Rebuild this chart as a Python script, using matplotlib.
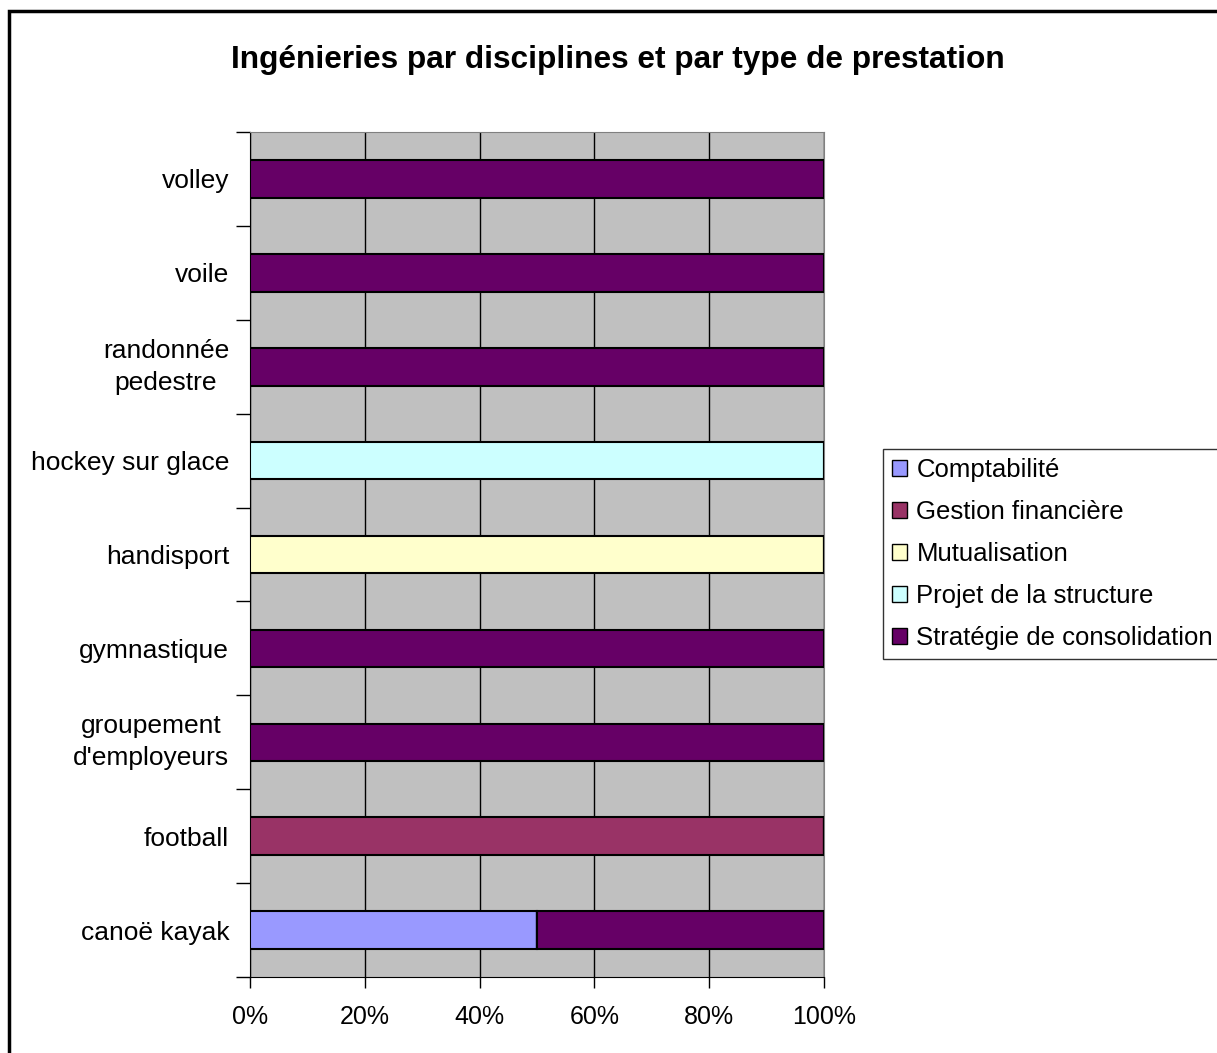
import numpy as np
import matplotlib.pyplot as plt
from matplotlib.patches import Rectangle

plt.rcParams['font.family'] = ['Liberation Sans', 'DejaVu Sans']

# Data (percent of prestations per discipline)
disciplines = ["canoë kayak", "football", "groupement\nd'employeurs", "gymnastique",
               "handisport", "hockey sur glace", "randonnée\npedestre", "voile", "volley"]
series_names = ["Comptabilité", "Gestion financière", "Mutualisation",
                "Projet de la structure", "Stratégie de consolidation"]
comptabilite = [50, 0, 0, 0, 0, 0, 0, 0, 0]
gestion_financiere = [0, 100, 0, 0, 0, 0, 0, 0, 0]
mutualisation = [0, 0, 0, 0, 100, 0, 0, 0, 0]
projet_structure = [0, 0, 0, 0, 0, 100, 0, 0, 0]
strategie = [50, 0, 100, 100, 0, 0, 100, 100, 100]
colors = ["#9999FF", "#993366", "#FFFFCC", "#CCFFFF", "#660066"]

W, H = 1217, 1053
fig = plt.figure(figsize=(W / 100, H / 100), dpi=100)
ax = fig.add_axes([250 / W, 1 - 977 / H, 574 / W, 845 / H])
ax.set_facecolor("#C0C0C0")

y = np.arange(len(disciplines))
left = np.zeros(len(disciplines))
for name, vals, col in zip(series_names,
                           [comptabilite, gestion_financiere, mutualisation, projet_structure, strategie],
                           colors):
    vals = np.array(vals, dtype=float)
    ax.barh(y, vals, left=left, height=0.4, color=col, edgecolor="black",
            linewidth=1.5, label=name, zorder=3)
    left += vals

ax.set_xlim(0, 100)
ax.set_ylim(-0.5, len(disciplines) - 0.5)
ax.set_xticks(np.arange(0, 101, 20))
ax.set_xticklabels([f"{v}%" for v in range(0, 101, 20)], fontsize=18)
ax.xaxis.grid(True, color="black", linewidth=1, zorder=1)
ax.tick_params(axis="x", direction="out", length=8, width=1, pad=12)

ax.set_yticks(y)
ax.set_yticklabels(disciplines, fontsize=19, multialignment="center",
                   linespacing=1.4)
ax.set_yticks(np.arange(-0.5, len(disciplines), 1), minor=True)
ax.tick_params(axis="y", which="major", length=0, pad=15)
ax.tick_params(axis="y", which="minor", direction="out", length=10, width=1)
for lab in ax.get_yticklabels():
    if "\n" in lab.get_text():
        lab.set_verticalalignment("center")

for s in ["top", "right"]:
    ax.spines[s].set_color("#808080")
for s in ["left", "bottom"]:
    ax.spines[s].set_color("black")

fig.text(618 / W, 1 - 60 / H, "Ingénieries par disciplines et par type de prestation",
         ha="center", va="center", fontsize=22.8, fontweight="bold")

leg = ax.legend(loc="upper left", bbox_to_anchor=(883 / W, 1 - 449 / H),
                bbox_transform=fig.transFigure, fontsize=18.5, frameon=True,
                fancybox=False, edgecolor="black", handlelength=0.6,
                handleheight=0.6, handletextpad=0.35, labelspacing=0.7,
                borderpad=0.35, borderaxespad=0)
leg.get_frame().set_linewidth(1)
for h in leg.legend_handles:
    h.set_linewidth(1)

# outer chart frame
fig.patches.append(Rectangle((8.5 / W, -0.05), 1.1, 1 - 11 / H + 0.05,
                             transform=fig.transFigure, fill=False,
                             edgecolor="black", linewidth=2.5))

fig.savefig("out.png", dpi=100)
